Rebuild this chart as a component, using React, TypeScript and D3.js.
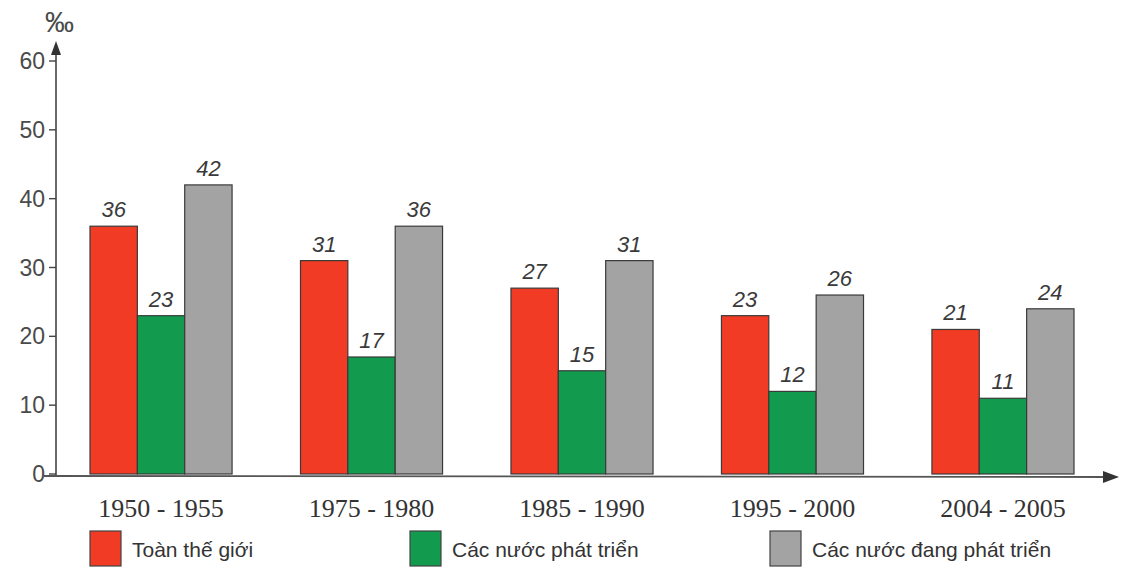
import React from "react";
import * as d3 from "d3";

const categories = ["1950 - 1955", "1975 - 1980", "1985 - 1990", "1995 - 2000", "2004 - 2005"];
const seriesNames = ["Toàn thế giới", "Các nước phát triển", "Các nước đang phát triển"];
const world = [36, 31, 27, 23, 21];
const developed = [23, 17, 15, 12, 11];
const developing = [42, 36, 31, 26, 24];
const yTicks = [0, 10, 20, 30, 40, 50, 60];
const colors = ["#f23b24", "#129a4e", "#a3a3a3"];

const W = 1122;
const H = 570;

export default function App() {
  const series = [world, developed, developing];
  const y = d3.scaleLinear().domain([0, 60]).range([474, 61]);
  const x0 = d3.scaleBand<string>().domain(categories).range([90, 1074]).paddingInner(0.325).paddingOuter(0);
  const x1 = d3.scaleBand<number>().domain([0, 1, 2]).range([0, x0.bandwidth()]).padding(0);
  const legendX = [90, 410, 770];
  const sans = "'Liberation Sans', Arial, sans-serif";

  return (
    <svg width={W} height={H} style={{ position: "absolute", left: 0, top: 0, background: "#fff" }}>
      <rect x={0} y={0} width={W} height={H} fill="#fff" />
      {categories.map((c, i) => (
        <g key={c} transform={`translate(${x0(c)},0)`}>
          {series.map((s, k) => (
            <g key={k}>
              <rect
                x={x1(k)}
                y={y(s[i])}
                width={x1.bandwidth()}
                height={y(0) - y(s[i])}
                fill={colors[k]}
                stroke="#3a3a3a"
                strokeWidth={1.2}
              />
              <text
                x={(x1(k) as number) + x1.bandwidth() / 2}
                y={y(s[i]) - 9}
                textAnchor="middle"
                fontFamily={sans}
                fontStyle="italic"
                fontSize={22}
                fill="#3a3a3a"
              >
                {s[i]}
              </text>
            </g>
          ))}
        </g>
      ))}
      <line x1={56} y1={476} x2={56} y2={50} stroke="#444" strokeWidth={1.6} />
      <path d="M56,41 L51,55 L61,55 Z" fill="#333" />
      {yTicks.map((t) => (
        <g key={t}>
          <line x1={49} x2={56} y1={y(t)} y2={y(t)} stroke="#444" strokeWidth={1.4} />
          <text x={45} y={y(t) + 8} textAnchor="end" fontFamily={sans} fontSize={23} fill="#4a4a4a">
            {t}
          </text>
        </g>
      ))}
      <text x={45} y={32} fontFamily={sans} fontSize={29} fill="#4a4a4a">‰</text>
      <line x1={44} y1={476} x2={1106} y2={477} stroke="#555" strokeWidth={1.8} />
      <path d="M1119,477 L1103,471 L1103,483 Z" fill="#333" />
      {categories.map((c) => (
        <text
          key={c}
          x={(x0(c) as number) + x0.bandwidth() / 2}
          y={517}
          textAnchor="middle"
          fontFamily="'Liberation Serif', 'Times New Roman', serif"
          fontSize={26}
          fill="#333"
        >
          {c}
        </text>
      ))}
      {seriesNames.map((n, k) => (
        <g key={n}>
          <rect x={legendX[k]} y={531} width={31} height={35} fill={colors[k]} stroke="#444" strokeWidth={1.2} />
          <text x={legendX[k] + 42} y={557} fontFamily={sans} fontSize={21} fill="#333">
            {n}
          </text>
        </g>
      ))}
    </svg>
  );
}
